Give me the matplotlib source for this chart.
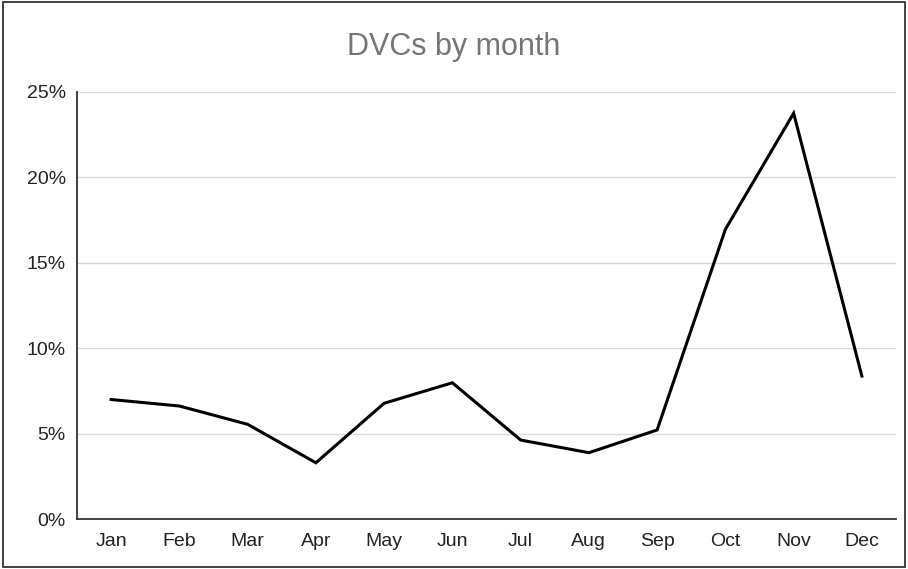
import matplotlib.pyplot as plt
from matplotlib.patches import Rectangle
from matplotlib.ticker import FuncFormatter

months = ["Jan", "Feb", "Mar", "Apr", "May", "Jun",
          "Jul", "Aug", "Sep", "Oct", "Nov", "Dec"]
dvc_pct = [7.0, 6.62, 5.55, 3.3, 6.78, 7.98,
           4.63, 3.89, 5.22, 16.95, 23.74, 8.37]
yticks = [0, 5, 10, 15, 20, 25]

plt.rcParams['font.family'] = ['Liberation Sans', 'DejaVu Sans']

fig = plt.figure(figsize=(9.08, 5.69), dpi=100)
ax = fig.add_axes([0.0848, 0.0875, 0.902, 0.7513])

x = range(len(months))
ax.plot(x, dvc_pct, color='black', lw=2.2, solid_joinstyle='miter', zorder=3)

ax.set_xlim(-0.5, len(months) - 0.5)
ax.set_ylim(0, 25)
ax.set_xticks(list(x))
ax.set_xticklabels(months)
ax.set_yticks(yticks)
ax.yaxis.set_major_formatter(FuncFormatter(lambda v, p: f"{v:.0f}%"))
ax.grid(axis='y', color='#d9d9d9', lw=1)
ax.set_axisbelow(True)

for s in ['top', 'right']:
    ax.spines[s].set_visible(False)
for s in ['left', 'bottom']:
    ax.spines[s].set_color('#333333')
    ax.spines[s].set_linewidth(1.3)

ax.tick_params(axis='both', length=0, labelsize=14, colors='#222222')
ax.tick_params(axis='x', pad=10)
ax.tick_params(axis='y', pad=8)

fig.text(0.5, 0.917, "DVCs by month", ha='center', va='center',
         fontsize=22, color='#757575')

fig.patches.append(Rectangle((0.003, 0.003), 0.994, 0.994, transform=fig.transFigure,
                             fill=False, edgecolor='#222222', lw=1.2))

fig.savefig("out.png", dpi=100)
